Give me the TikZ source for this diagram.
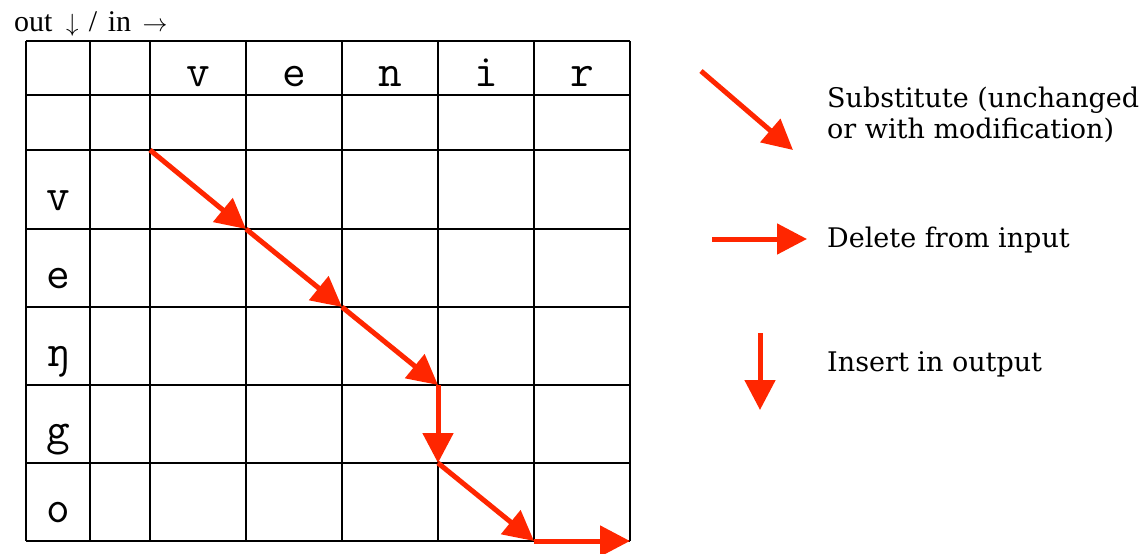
\documentclass[tikz,border=0pt]{standalone}
\usepackage{fontspec}
\setmainfont{Liberation Serif}
\newfontfamily\legendfont{DejaVu Serif}
\usetikzlibrary{arrows.meta}
\definecolor{arr}{RGB}{255,38,0}
\begin{document}
\begin{tikzpicture}[x=1pt,y=-1pt,
  gridline/.style={line width=1.8pt,black},
  letter/.style={font=\ttfamily\fontsize{46}{46}\selectfont,inner sep=0pt,anchor=base},
  redarrow/.style={draw=arr,line width=5pt,-{Triangle[length=30pt,width=30pt]},shorten >=0pt},
  legend/.style={font=\legendfont\fontsize{27}{31}\selectfont,anchor=base west,inner sep=0pt,align=left}]
\useasboundingbox (0,0) rectangle (1146,554);
% grid
\foreach \x in {26,90,150,246,342,438,534,630} \draw[gridline] (\x,41) -- (\x,541);
\foreach \y in {41,95,150,229,307,385,463,541} \draw[gridline] (26,\y) -- (630,\y);
% header label
\node[font=\fontsize{30}{30}\selectfont,anchor=base west,inner sep=0pt] (hdr) at (14,31)
  {out\hspace{6pt} $\downarrow$\hspace{3pt} /\hspace{3pt} in\hspace{4pt} $\rightarrow$};
% input letters
\node[letter] (i1) at (198,86) {v};
\node[letter] (i2) at (294,86) {e};
\node[letter] (i3) at (390,86) {n};
\node[letter] (i4) at (486,86) {i};
\node[letter] (i5) at (582,86) {r};
% output letters
\node[letter] (o1) at (58,210) {v};
\node[letter] (o2) at (58,288) {e};
\node[letter] (o3) at (58,366) {ŋ};
\node[letter] (o4) at (58,444) {g};
\node[letter] (o5) at (58,522) {o};
% path points
\coordinate (p0) at (150,150);
\coordinate (p1) at (246,229);
\coordinate (p2) at (342,307);
\coordinate (p3) at (438,385);
\coordinate (p4) at (438,463);
\coordinate (p5) at (534,541);
\coordinate (p6) at (630,541);
\draw[redarrow] (p0) -- (p1);
\draw[redarrow] (p1) -- (p2);
\draw[redarrow] (p2) -- (p3);
\draw[redarrow] (p3) -- (p4);
\draw[redarrow] (p4) -- (p5);
\draw[redarrow] (p5) -- (p6);
% legend
\coordinate (s0) at (701,71);
\coordinate (s1) at (793,150);
\draw[redarrow] (s0) -- (s1);
\coordinate (d0) at (712,239);
\coordinate (d1) at (807,239);
\draw[redarrow] (d0) -- (d1);
\coordinate (n0) at (760,333);
\coordinate (n1) at (760,410);
\draw[redarrow] (n0) -- (n1);
\node[legend] (ls) at (827,138) {Substitute (unchanged\\or with modification)};
\node[legend] (ld) at (827,247) {Delete from input};
\node[legend] (ln) at (827,371) {Insert in output};
\end{tikzpicture}
\end{document}
